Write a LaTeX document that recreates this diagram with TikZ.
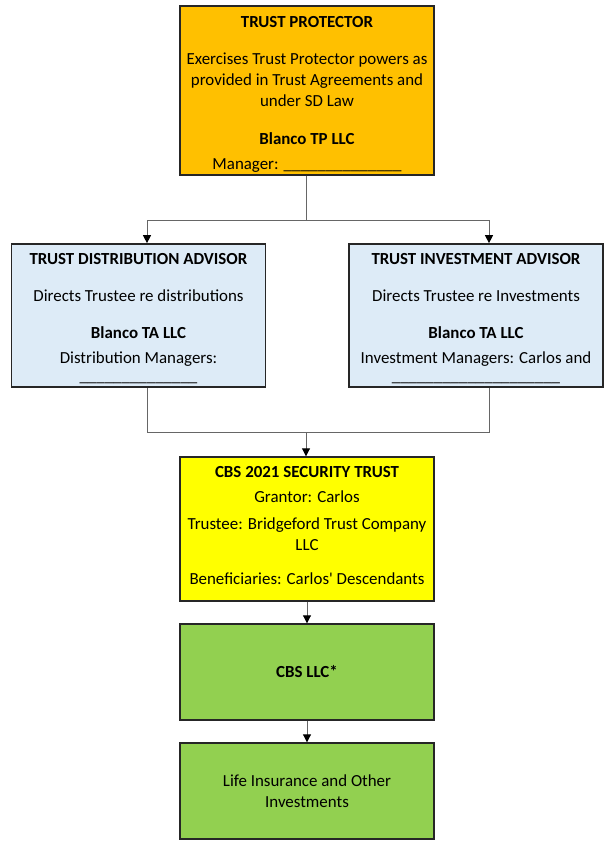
\documentclass[tikz,border=0pt]{standalone}
\usepackage{fontspec}
\setmainfont{Carlito}[Ligatures=TeXOff]
\usepackage{xcolor}
\usetikzlibrary{arrows.meta}

\definecolor{tporange}{HTML}{FFC000}
\definecolor{advblue}{HTML}{DDEBF7}
\definecolor{trustyellow}{HTML}{FFFF00}
\definecolor{llcgreen}{HTML}{92D050}

\newcommand{\topgap}{\rule{0pt}{18pt}}
\newcommand{\bottomgap}{\rule[-8pt]{0pt}{8pt}}

\tikzset{
  box/.style={draw=black!85, line width=1.4pt, minimum width=254pt, align=center,
    inner sep=3pt, font=\fontsize{16.9}{21}\selectfont},
  link/.style={draw=black!60, line width=0.9pt},
  arrow/.style={link, -{Triangle[length=8pt,width=8pt,color=black]}}
}

\begin{document}
\begin{tikzpicture}[x=1pt,y=-1pt]
\useasboundingbox (0,0) rectangle (604,846);
% boxes
\node[box, fill=tporange, minimum height=167pt] (tp) at (307,90.5)
  {\topgap\textbf{TRUST PROTECTOR}\\[16pt]
   Exercises Trust Protector powers as\\
   provided in Trust Agreements and\\
   under SD Law\\[17pt]
   \textbf{Blanco TP LLC}\\[4pt]
   Manager: \_\_\_\_\_\_\_\_\_\_\_\_\_\_};
\node[box, fill=advblue, minimum height=141pt] (tda) at (138.5,315.5)
  {\topgap\textbf{TRUST DISTRIBUTION ADVISOR}\\[16pt]
   Directs Trustee re distributions\\[16pt]
   \textbf{Blanco TA LLC}\\[4pt]
   Distribution Managers:\\[-3pt]
   \_\_\_\_\_\_\_\_\_\_\_\_\_\_};
\node[box, fill=advblue, minimum height=141pt] (tia) at (476,315.5)
  {\topgap\textbf{TRUST INVESTMENT ADVISOR}\\[16pt]
   Directs Trustee re Investments\\[16pt]
   \textbf{Blanco TA LLC}\\[4pt]
   Investment Managers: Carlos and\\[-3pt]
   \_\_\_\_\_\_\_\_\_\_\_\_\_\_\_\_\_\_\_\_};
\node[box, fill=trustyellow, minimum height=144pt] (cbs) at (307,529)
  {\textbf{CBS 2021 SECURITY TRUST}\\[4pt]
   Grantor: Carlos\\[6pt]
   Trustee: Bridgeford Trust Company\\
   LLC\\[13pt]
   Beneficiaries: Carlos' Descendants\bottomgap};
\node[box, fill=llcgreen, minimum height=96pt] (llc) at (307,672) {\textbf{CBS LLC*}};
\node[box, fill=llcgreen, minimum height=96pt] (life) at (307,791)
  {Life Insurance and Other\\ Investments};
% connectors
\coordinate (upper) at (306,220);
\coordinate (lower) at (306,432);
\draw[link] (tp.south -| upper) -- (upper);
\draw[arrow] (upper) -| ([xshift=8.5pt]tda.north);
\draw[arrow] (upper) -| ([xshift=13pt]tia.north);
\draw[link] ([xshift=8.5pt]tda.south) |- (lower);
\draw[link] ([xshift=13pt]tia.south) |- (lower);
\draw[arrow] (lower) -- (cbs.north -| lower);
\draw[arrow] (cbs.south) -- (llc.north);
\draw[arrow] (llc.south) -- (life.north);
\end{tikzpicture}
\end{document}
